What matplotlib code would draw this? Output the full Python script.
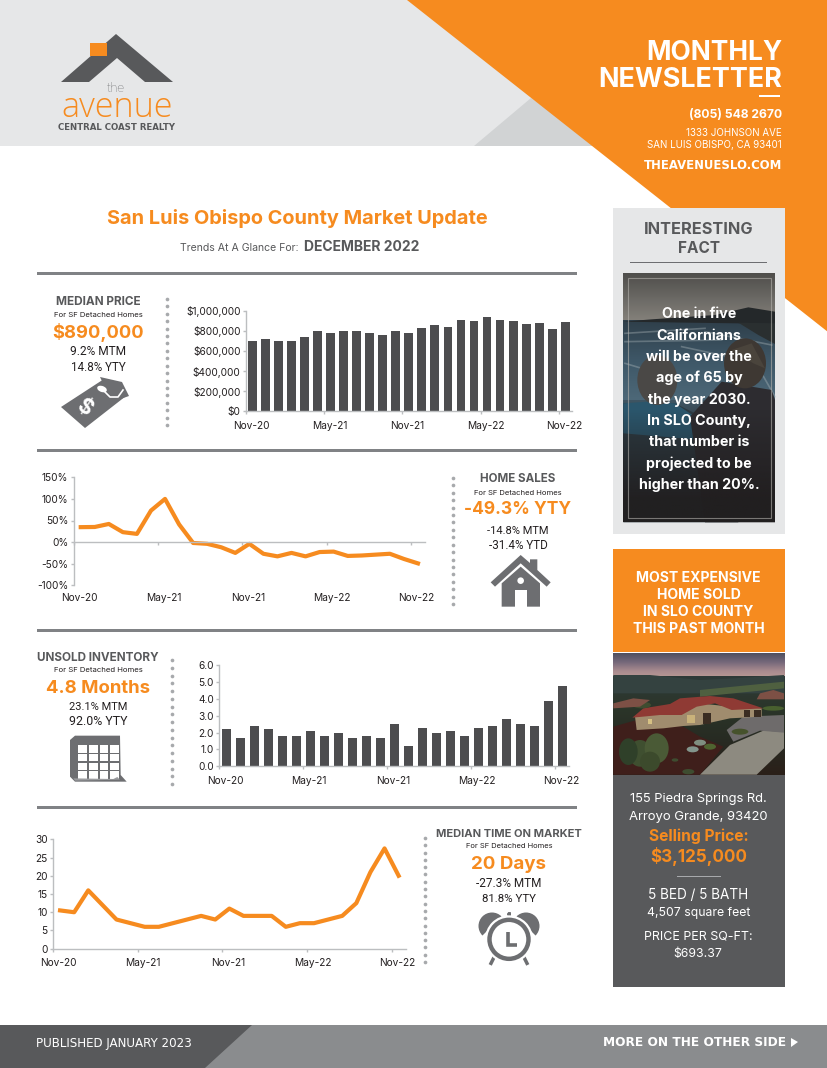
import numpy as np
import matplotlib
matplotlib.use("Agg")
import matplotlib.pyplot as plt
from matplotlib.patches import Polygon, Rectangle, Circle, Ellipse, Wedge
from matplotlib.colors import LinearSegmentedColormap
from matplotlib.ticker import FuncFormatter, FixedLocator, FixedFormatter

# ---------- chart data ----------
months_n = 25
tick_labels = ["Nov-20", "May-21", "Nov-21", "May-22", "Nov-22"]
median_price = [702000, 715000, 699000, 702000, 738000, 801000, 778000, 801000, 795000, 775000,
                755000, 801000, 778000, 825000, 854000, 834000, 907000, 894000, 934000, 907000,
                897000, 871000, 877000, 815000, 890000]
home_sales = [34.6, 35, 42, 23, 19, 73, 100, 41, -2, -4, -12, -25, -4, -27, -33, -25, -33, -23,
              -22, -32, -31, -29, -27, -39, -49.3]
inventory = [2.2, 1.7, 2.4, 2.2, 1.8, 1.8, 2.1, 1.8, 2.0, 1.7, 1.8, 1.7, 2.5, 1.2, 2.3, 2.0, 2.1,
             1.8, 2.3, 2.4, 2.8, 2.5, 2.4, 3.9, 4.8]
time_on_market = [10.5, 10, 16, 12, 8, 7, 6, 6, 7, 8, 9, 8, 11, 9, 9, 9, 6, 7, 7, 8, 9, 12.5, 21,
                  27.5, 20]

ORANGE = "#f68b1f"
DARK = "#58595b"
BAR = "#4d4d4f"
ICON = "#6d6e71"
HEAD = "#e6e7e8"
AXISC = "#bcbec0"
INK = "#231f20"
FONT = ["Inter", "DejaVu Sans"]
WIDE = ["DejaVu Sans"]
NARROW = ["Roboto", "DejaVu Sans"]
LOGO = ["Open Sans", "DejaVu Sans"]
W, H = 828, 1068

plt.rcParams["font.family"] = FONT
fig = plt.figure(figsize=(W / 100, H / 100), dpi=100, facecolor="white")
pg = fig.add_axes([0, 0, 1, 1], zorder=0)
pg.set_xlim(0, W); pg.set_ylim(H, 0); pg.axis("off")
rend = fig.canvas.get_renderer()


def T(x, y, s, px=12, w=None, weight="normal", color=INK, ha="center", family=None, rot=0, z=5):
    t = pg.text(x, y, s, fontsize=px * 0.72, fontweight=weight, color=color, ha=ha, va="center",
                family=family or FONT, rotation=rot, zorder=z)
    if w:
        cur = t.get_window_extent(rend).width
        t.set_fontsize(t.get_fontsize() * w / cur)
    t.set_y(y + 0.1 * t.get_fontsize() / 0.72)
    return t


def poly(pts, c, z=1, **k):
    p = Polygon(pts, closed=True, fc=c, ec=k.pop("ec", "none"), zorder=z, **k)
    pg.add_patch(p)
    return p


def rect(x0, y0, x1, y1, c, z=1, **k):
    pg.add_patch(Rectangle((x0, y0), x1 - x0, y1 - y0, fc=c, ec=k.pop("ec", "none"), zorder=z, **k))


def grad(x0, x1, y0, y1, cols, z=2):
    cm = LinearSegmentedColormap.from_list("g", cols)
    pg.imshow(np.linspace(0, 1, 128)[:, None], cmap=cm, extent=(x0, x1, y1, y0), aspect="auto",
              zorder=z, interpolation="bilinear")


# ---------- header ----------
rect(0, 0, 620, 146, HEAD, z=0.5)
poly([(474, 146), (531, 98), (600, 146)], "#d1d3d4", z=0.7)
poly([(407, 0), (828, 0), (828, 332)], ORANGE, z=0.9)
poly([(61, 82), (116, 34), (173, 82), (145, 82), (117, 58), (89, 82)], DARK, z=2)
rect(90, 43, 107, 56, ORANGE, z=3)
T(116, 87, "the", 12, w=18, color=ICON, family=NARROW, weight="light")
T(117, 104.5, "avenue", 28, w=112, color=ORANGE, family=LOGO, weight="light")
T(117, 126.5, "CENTRAL COAST REALTY", 6.5, w=117, weight="bold", color=DARK, family=WIDE)

T(782, 50, "MONTHLY", 28, w=136, weight="bold", color="white", ha="right")
T(782, 77, "NEWSLETTER", 28, w=184, weight="bold", color="white", ha="right")
rect(759, 95, 780, 97, "white", z=3)
T(782, 113.5, "(805) 548 2670", 13, w=94, weight="bold", color="white", ha="right")
T(782, 132.5, "1333 JOHNSON AVE", 10, w=95, color="white", ha="right")
T(782, 144.5, "SAN LUIS OBISPO, CA 93401", 10, w=134, color="white", ha="right")
T(782, 164.5, "THEAVENUESLO.COM", 11, w=137, weight="bold", color="white", ha="right", family=WIDE)

# ---------- headings ----------
T(297.5, 216.5, "San Luis Obispo County Market Update", 19, w=379, weight="bold", color=ORANGE)
T(239.5, 246.5, "Trends At A Glance For:", 11, w=119, color=DARK)
T(362, 245.5, "DECEMBER 2022", 14, w=116, weight="bold", color=DARK)

for y in (273, 450, 630, 807):
    rect(37, y - 1.5, 577, y + 1.5, "#808285", z=1)


def dots(x, y0, y1, n):
    pg.scatter([x] * n, np.linspace(y0, y1, n), s=7, c="#a7a9ac", linewidths=0, zorder=2)


dots(167, 299, 425, 18)
dots(453, 478, 604, 18)
dots(172, 660, 784, 17)
dots(425, 838, 962, 18)


def stat(cx, ys, title, tw, sub, sw, big, bw, a, aw, b, bw2):
    T(cx, ys[0] - 0.5, title, 12, w=tw, weight="bold", color=DARK)
    T(cx, ys[1] - 0.5, sub, 8.5, w=sw, color=INK)
    T(cx, ys[2] - 1, big, 20, w=bw, weight="bold", color=ORANGE)
    T(cx, ys[3] - 0.5, a, 12, w=aw, color=INK, family=NARROW)
    T(cx, ys[4] - 0.5, b, 12, w=bw2, color=INK, family=NARROW)


stat(98, (301, 315, 332, 351, 367), "MEDIAN PRICE", 85, "For SF Detached Homes", 88, "$890,000", 91, "9.2% MTM", 56, "14.8% YTY", 55)
stat(518, (478, 493, 509, 530, 545), "HOME SALES", 75, "For SF Detached Homes", 87, "-49.3% YTY", 107, "-14.8% MTM", 62, "-31.4% YTD", 59)
stat(98, (657, 670, 688, 706, 721), "UNSOLD INVENTORY", 122, "For SF Detached Homes", 88, "4.8 Months", 104, "23.1% MTM", 59, "92.0% YTY", 58)
stat(509, (833, 846, 864, 883, 898), "MEDIAN TIME ON MARKET", 146, "For SF Detached Homes", 86, "20 Days", 75, "-27.3% MTM", 65, "81.8% YTY", 54)

# ---------- icons ----------
poly([(61, 407), (104, 379), (126, 396), (85, 428)], ICON, z=3, lw=4, joinstyle="round")
poly([(100, 377), (122, 382), (129, 396), (112, 402)], ICON, z=3)
T(84, 405, "$", 21, weight="bold", color="white", rot=-35)
pg.add_patch(Ellipse((102, 389), 10, 6, angle=20, fc="white", ec="none", zorder=4))
pg.plot([104, 110, 118, 123], [391, 397, 397, 390], color="white", lw=1.2, zorder=4)

hx = lambda v: 450 + v / 3
hy = lambda v: 465 + v / 3
hp = lambda pts: [(hx(a), hy(b)) for a, b in pts]
poly(hp([(122, 352), (212, 270), (240, 294), (240, 283), (262, 283), (262, 315), (302, 352),
         (290, 365), (212, 295), (135, 365)]), ICON, z=3)
poly(hp([(155, 355), (212, 305), (270, 355), (270, 425), (155, 425)]), ICON, z=3)
rect(hx(195), hy(375), hx(230), hy(425), "white", z=4)
pg.add_patch(Circle((hx(212), hy(347)), 3.3, fc="white", ec="none", zorder=4))

cx = lambda v: 30 + v / 3
cy = lambda v: 645 + v / 3
poly([(cx(120), cy(285)), (cx(135), cy(272)), (cx(270), cy(272)), (cx(272), cy(390)),
      (cx(290), cy(410)), (cx(135), cy(410)), (cx(120), cy(395))], ICON, z=3)
for i in range(4):
    for j in range(4):
        x0 = cx(145 + i * 32); y0 = cy(301 + j * 26)
        rect(x0, y0, x0 + 8.6, y0 + 7.2, "white", z=4)
poly([(cx(130), cy(400)), (cx(250), cy(402)), (cx(262), cy(396)), (cx(270), cy(404)),
      (cx(135), cy(407))], "#9a9b9e", z=4)

kx = lambda v: 425 + v / 3
ky = lambda v: 820 + v / 3
pg.add_patch(Wedge((kx(201), ky(318)), 13.5, 135, 315, fc=ICON, ec="none", zorder=3))
pg.add_patch(Wedge((kx(303), ky(318)), 13.5, 225, 45, fc=ICON, ec="none", zorder=3))
pg.plot([kx(252), kx(252)], [ky(280), ky(300)], color=ICON, lw=2, zorder=3)
pg.add_patch(Circle((kx(252), ky(283)), 2, fc=ICON, ec="none", zorder=3))
pg.plot([kx(208), kx(198)], [ky(410), ky(430)], color=ICON, lw=2.5, zorder=3)
pg.plot([kx(296), kx(306)], [ky(410), ky(430)], color=ICON, lw=2.5, zorder=3)
pg.add_patch(Circle((kx(252), ky(358)), 24, fc="white", ec="none", zorder=3.5))
pg.add_patch(Circle((kx(252), ky(358)), 19.5, fc="white", ec=ICON, lw=3.2, zorder=4))
pg.plot([kx(250), kx(250), kx(276)], [ky(335), ky(375), ky(375)], color=ICON, lw=2.6, zorder=5,
        solid_joinstyle="miter", solid_capstyle="butt")

# ---------- interesting fact panel ----------
rect(613, 208, 785, 534, HEAD, z=1.5)
T(699, 228, "INTERESTING", 17, w=109, weight="bold", color=DARK)
T(699, 247, "FACT", 17, w=42, weight="bold", color=DARK)
rect(630, 261.6, 767, 262.6, ICON, z=2)

fx = lambda v: 605 + v / 3
fy = lambda v: 200 + v / 3
fp = lambda pts: [(fx(a), fy(b)) for a, b in pts]
grad(623, 775, 273, 322, ["#4f4e4b", "#6a6864", "#85827c"], z=2)
grad(623, 775, 320, 400, ["#2f3f4a", "#3e5767", "#4d6878"], z=2.1)
grad(623, 775, 400, 522, ["#3f5563", "#2b3034", "#211f20", "#1e1c1d"], z=2.1)
poly(fp([(140, 358), (330, 345), (430, 322), (510, 335), (510, 372), (400, 370), (250, 368), (55, 365)]),
     "#24282a", z=2.2)
poly(fp([(400, 368), (510, 370), (510, 432), (460, 405)]), "#2a2f30", z=2.21)
for (a0, b0, a1_, b1) in [(60, 400, 300, 385), (60, 425, 350, 420), (230, 440, 370, 470),
                          (300, 395, 500, 435), (60, 490, 110, 505), (470, 520, 510, 590)]:
    pg.plot([fx(a0), fx(a1_)], [fy(b0), fy(b1)], color="#a9b4b8", alpha=0.4, lw=1.2, zorder=2.3)
poly(fp([(55, 610), (130, 610), (210, 610), (270, 640), (330, 680), (400, 967), (55, 967)]), "#2c3a42", z=2.4)
poly(fp([(55, 610), (130, 605), (210, 610), (270, 650), (290, 720), (55, 700)]), "#2b566c", z=2.41)
poly(fp([(255, 650), (350, 545), (500, 570), (510, 600), (510, 967), (300, 967)]), "#2d2c30", z=2.5)
pg.add_patch(Ellipse((fx(157), fy(540)), 40, 50, fc="#4a4846", ec="none", zorder=2.6))
pg.add_patch(Ellipse((fx(420), fy(490)), 42, 50, fc="#3e3833", ec="none", zorder=2.6))
poly(fp([(380, 450), (440, 430), (480, 505), (445, 490)]), "#4a443c", z=2.7)
ov = np.zeros((128, 1, 4))
ov[:, 0, 3] = np.clip((np.linspace(0, 1, 128) - 0.55) * 2.6, 0, 0.93)
ov[:, 0, :3] = np.array([0x21, 0x1e, 0x1f]) / 255
pg.imshow(ov, extent=(623, 775, 522, 273), aspect="auto", zorder=2.8)
pg.add_patch(Rectangle((628, 278), 143, 240, fc="none", ec="#b5b3ae", alpha=0.6, lw=0.8, zorder=2.9))
fact = ["One in five", "Californians", "will be over the", "age of 65 by", "the year 2030.", "In SLO County,",
        "that number is", "projected to be", "higher than 20%."]
fy_txt = [313, 335, 356, 377, 399, 420, 441, 463, 484]
for s, y in zip(fact, fy_txt):
    T(699, y - 0.5, s, 14.3, weight="bold", color="white")

# ---------- most expensive panel ----------
rect(613, 549, 785, 652, ORANGE, z=1.5)
for s, y in zip(["MOST EXPENSIVE", "HOME SOLD", "IN SLO COUNTY", "THIS PAST MONTH"], [577, 594, 611, 628]):
    T(698.5, y - 0.5, s, 14, weight="bold", color="white")
hox = lambda v: 600 + v / 3
hoy = lambda v: 540 + v / 3
ho = lambda pts: [(hox(a), hoy(b)) for a, b in pts]
grad(613, 785, 653, 680, ["#4f505f", "#75687a", "#a98b8f", "#bf9f96"], z=2)
grad(613, 785, 676, 775, ["#2f3a38", "#2b3529", "#272a22", "#2b2019"], z=2.1)
poly(ho([(40, 405), (150, 405), (300, 420), (400, 415), (552, 405), (552, 460), (40, 460)]), "#344240", z=2.15)
poly(ho([(300, 450), (400, 440), (552, 425), (552, 445), (400, 460), (300, 470)]), "#4f6040", z=2.16)
poly(ho([(40, 560), (110, 540), (250, 560), (300, 590), (370, 620), (300, 704), (40, 704)]), "#3f1f1b", z=2.2)
poly(ho([(300, 704), (390, 615), (490, 572), (552, 575), (552, 625), (470, 704)]), "#8d8a80", z=2.3)
poly(ho([(380, 570), (430, 530), (552, 525), (552, 578), (480, 572), (400, 605)]), "#6e6b6b", z=2.3)
poly(ho([(105, 530), (110, 570), (190, 565), (250, 558), (300, 555), (390, 535), (485, 530), (485, 505), (390, 500), (300, 490), (200, 495)]), "#a08c6e", z=2.4)
poly(ho([(97, 533), (130, 505), (210, 492), (240, 475), (330, 468), (400, 475), (490, 505), (395, 510), (345, 490), (290, 500), (245, 525), (180, 525)]), "#8f3a34", z=2.5)
rect(hox(310), hoy(518), hox(332), hoy(552), "#3a2c22", z=2.6)
rect(hox(262), hoy(525), hox(285), hoy(548), "#c9b27a", z=2.6)
rect(hox(145), hoy(538), hox(157), hoy(552), "#d6c184", z=2.6)
rect(hox(432), hoy(510), hox(450), hoy(530), "#3a2c22", z=2.6)
rect(hox(463), hoy(510), hox(482), hoy(530), "#3a2c22", z=2.6)
for (a, b, rx, ry, c) in [(120, 640, 34, 40, "#3f4f30"), (170, 625, 36, 45, "#4a5a36"),
                          (150, 665, 30, 30, "#3c4a2c"), (85, 635, 28, 40, "#2f4029"),
                          (300, 608, 18, 9, "#7f8f80"), (278, 628, 18, 9, "#83958c"),
                          (330, 620, 18, 9, "#4f6430"), (420, 575, 25, 9, "#46522c"),
                          (520, 505, 32, 7, "#49602f"), (125, 495, 28, 10, "#3e4c30"),
                          (265, 695, 18, 8, "#3e4c30"), (225, 660, 10, 5, "#3e4c30")]:
    pg.add_patch(Ellipse((hox(a), hoy(b)), 2 * rx / 3, 2 * ry / 3, fc=c, ec="none", zorder=2.7))
poly(ho([(480, 460), (520, 450), (552, 460), (552, 478), (470, 478)]), "#7d5045", z=2.7)
poly(ho([(40, 490), (100, 475), (150, 480), (120, 500), (40, 505)]), "#7d5045", z=2.7)

rect(613, 775, 785, 987, DARK, z=1.5)
T(698.5, 797.5, "155 Piedra Springs Rd.", 13, w=137, color="white")
T(698.5, 815.5, "Arroyo Grande, 93420", 13, w=139, color="white")
T(699, 835, "Selling Price:", 16, w=100, weight="bold", color=ORANGE)
T(698.5, 855, "$3,125,000", 18, w=97, weight="bold", color=ORANGE)
rect(677, 875.5, 721, 876.5, "#a7a9ac", z=3)
T(698, 893.5, "5 BED / 5 BATH", 12, w=100, color="white")
T(698.5, 911.5, "4,507 square feet", 12, w=103, color="white")
T(698, 935.5, "PRICE PER SQ-FT:", 12, w=108, color="white")
T(697.5, 952.5, "$693.37", 12, w=49, color="white")

# ---------- footer ----------
rect(0, 1025, W, H, "#8a8c8e", z=1)
poly([(0, 1025), (252, 1025), (205, H), (0, H)], DARK, z=1.2)
T(36, 1042.5, "PUBLISHED JANUARY 2023", 10, w=157, color="white", ha="left", family=WIDE)
T(603, 1041.5, "MORE ON THE OTHER SIDE", 10, w=182, weight="bold", color="white", ha="left", family=WIDE)
poly([(791, 1038), (798, 1042), (791, 1047)], "white", z=3)
pg.set_xlim(0, W); pg.set_ylim(H, 0)


# ---------- charts ----------
def chart_axes(x0, x1, ytop, ybot):
    ax = fig.add_axes([x0 / W, 1 - ybot / H, (x1 - x0) / W, (ybot - ytop) / H], zorder=2)
    ax.patch.set_alpha(0)
    for s in ("top", "right"):
        ax.spines[s].set_visible(False)
    for s in ("left", "bottom"):
        ax.spines[s].set_color(AXISC); ax.spines[s].set_linewidth(1.0)
    ax.set_xlim(-0.5, months_n - 0.5)
    major = np.arange(0, months_n, 6) - 0.5
    ax.xaxis.set_major_locator(FixedLocator(major))
    ax.xaxis.set_major_formatter(FixedFormatter([""] * 5))
    ax.xaxis.set_minor_locator(FixedLocator(major + 0.4))
    ax.xaxis.set_minor_formatter(FixedFormatter(tick_labels))
    ax.tick_params(axis="x", which="major", length=2.5, color=AXISC, width=1)
    ax.tick_params(axis="x", which="minor", length=0, labelsize=7.3, labelcolor=INK, pad=7)
    ax.tick_params(axis="y", length=2.5, color=AXISC, width=1, labelsize=7.3, labelcolor=INK, pad=1.5)
    return ax


xs = np.arange(months_n)
a1 = chart_axes(246, 571.7, 310.7, 411.3)
a1.bar(xs, median_price, width=0.68, color=BAR)
a1.set_ylim(0, 1000000)
a1.set_yticks(np.arange(0, 1000001, 200000))
a1.yaxis.set_major_formatter(FuncFormatter(lambda v, _: f"${v:,.0f}"))

a2 = chart_axes(73.7, 425, 477.3, 585.3)
a2.plot(xs, home_sales, color=ORANGE, lw=3)
a2.set_ylim(-100, 150)
a2.set_yticks(np.arange(-100, 151, 50))
a2.yaxis.set_major_formatter(FuncFormatter(lambda v, _: f"{v:.0f}%"))
a2.spines["bottom"].set_position(("data", 0))
a2.tick_params(axis="x", which="minor", pad=37)

a3 = chart_axes(219.3, 569.3, 665.3, 766.3)
a3.bar(xs, inventory, width=0.68, color=BAR)
a3.set_ylim(0, 6)
a3.set_yticks(np.arange(0, 7))
a3.yaxis.set_major_formatter(FuncFormatter(lambda v, _: f"{v:.1f}"))

a4 = chart_axes(53, 405.7, 839.3, 948.7)
a4.plot(xs, time_on_market, color=ORANGE, lw=3)
a4.set_ylim(0, 30)
a4.set_yticks(np.arange(0, 31, 5))

fig.savefig("out.png", dpi=100)
